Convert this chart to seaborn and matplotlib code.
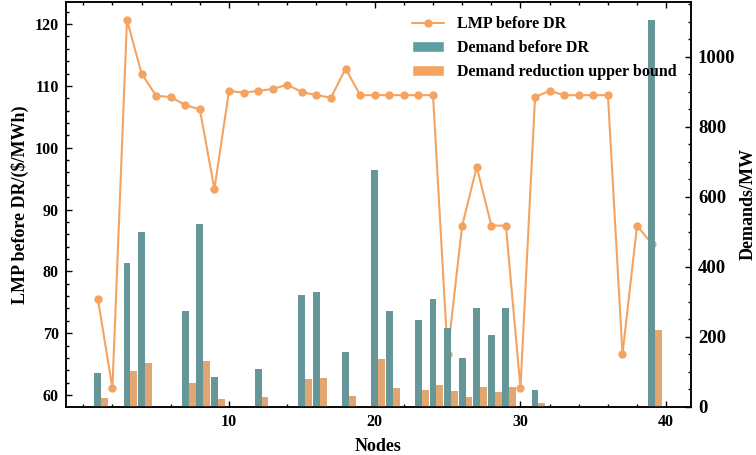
import numpy as np
import pandas as pd
import matplotlib
matplotlib.use("Agg")
import matplotlib.pyplot as plt
from matplotlib.patches import Patch
from matplotlib.ticker import MultipleLocator
import seaborn as sns

nodes = list(range(1, 40))

lmp_before = [75.6, 61.1, 120.7, 112.0, 108.4, 108.2, 106.9, 106.2, 93.3, 109.2,
              108.9, 109.2, 109.5, 110.2, 109.0, 108.5, 108.1, 112.8, 108.5, 108.5,
              108.5, 108.5, 108.5, 108.5, 66.7, 87.4, 96.9, 87.4, 87.4, 61.1,
              108.2, 109.2, 108.5, 108.5, 108.5, 108.5, 66.6, 87.4, 84.5]

demand_before = [96, 0, 411, 499, 0, 0, 273, 522, 85, 0,
                 0, 108, 0, 0, 319, 328, 0, 156, 0, 677,
                 273, 0, 248, 308, 225, 139, 282, 205, 282, 0,
                 48, 0, 0, 0, 0, 0, 0, 0, 1105]

demand_upper = [25, 0, 102, 125, 0, 0, 68, 130, 22, 0,
                0, 28, 0, 0, 79, 82, 0, 31, 0, 136,
                54, 0, 48, 62, 45, 28, 56, 42, 56, 0,
                10, 0, 0, 0, 0, 0, 0, 0, 219]

teal = "#5F9EA0"
orange = "#F4A460"

sns.set_style("ticks")
plt.rcParams["font.family"] = ["Liberation Serif", "DejaVu Serif"]
plt.rcParams["font.weight"] = "bold"
plt.rcParams["axes.labelweight"] = "bold"
plt.rcParams["text.color"] = "black"
plt.rcParams["axes.labelcolor"] = "black"
plt.rcParams["xtick.color"] = "black"
plt.rcParams["ytick.color"] = "black"

fig = plt.figure(figsize=(7.56, 4.55), dpi=100)
ax = fig.add_axes([0.087, 0.106, 0.827, 0.890])

# LMP line on the left axis
sns.lineplot(x=nodes, y=lmp_before, ax=ax, color=orange, marker="o",
             markersize=6, markeredgewidth=0, linewidth=1.5, legend=False)

# bars on the twin axis (drawn over the line)
ax2 = ax.twinx()
bars = pd.DataFrame({
    "node": np.array(nodes * 2, dtype=float) + 0.235,
    "value": demand_before + demand_upper,
    "series": ["Demand before DR"] * len(nodes) + ["Demand reduction upper bound"] * len(nodes),
})
sns.barplot(data=bars, x="node", y="value", hue="series", native_scale=True,
            palette=[teal, orange], width=0.94, errorbar=None, ax=ax2,
            legend=False, linewidth=0)

ax.set_xlim(-1.2, 41.7)
ax2.set_xlim(-1.2, 41.7)
ax.set_ylim(58.1, 123.6)
ax2.set_ylim(0, 1157)

ax.set_xticks([10, 20, 30, 40])
ax.xaxis.set_minor_locator(MultipleLocator(2))
ax.yaxis.set_major_locator(MultipleLocator(10))
ax.yaxis.set_minor_locator(MultipleLocator(2))
ax2.yaxis.set_major_locator(MultipleLocator(200))
ax2.yaxis.set_minor_locator(MultipleLocator(50))

ax.tick_params(axis="both", which="both", direction="in", top=True, right=False,
               labelsize=11.5, pad=5, width=1)
ax.tick_params(which="major", length=4)
ax.tick_params(which="minor", length=2.5)
ax2.tick_params(axis="y", which="both", direction="in", labelsize=13.5, pad=5, width=1)
ax2.tick_params(which="major", length=4)
ax2.tick_params(which="minor", length=2.5)

for a in (ax, ax2):
    for s in a.spines.values():
        s.set_linewidth(1.1)
        s.set_color("black")
        s.set_visible(True)

ax.set_xlabel("Nodes", fontsize=13, labelpad=6)
ax.set_ylabel(r"LMP before DR/(\$/MWh)", fontsize=13)
ax2.set_ylabel("Demands/MW", fontsize=13, labelpad=3)

handles = [
    plt.Line2D([], [], color=orange, marker="o", markersize=6, markeredgewidth=0, linewidth=1.5),
    Patch(facecolor=teal),
    Patch(facecolor=orange),
]
labels = ["LMP before DR", "Demand before DR", "Demand reduction upper bound"]
ax2.legend(handles, labels, loc="upper right", frameon=False,
           prop={"size": 11.5, "weight": "bold"})

fig.savefig("out.png", dpi=100)
